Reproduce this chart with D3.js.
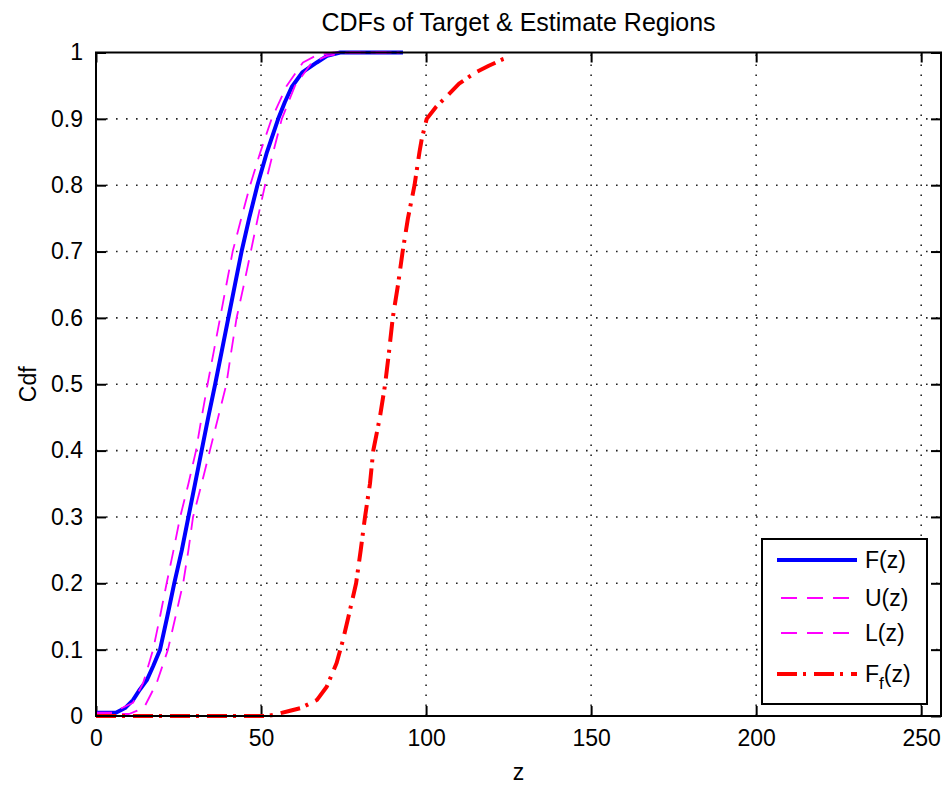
<!DOCTYPE html>
<html>
<head>
<meta charset="utf-8">
<script src="https://cdn.jsdelivr.net/npm/d3@7"></script>
<style>
  body{margin:0;background:#fff;}
  text{font-family:"Liberation Sans",Arial,sans-serif;fill:#000;}
</style>
</head>
<body>
<div id="chart"></div>
<script>
// CDFs of Target & Estimate Regions
const W=947,H=785;
const M={l:96,t:52.5,r:6,b:69};

const xTicks=[0,50,100,150,200,250];
const yTicks=[0,0.1,0.2,0.3,0.4,0.5,0.6,0.7,0.8,0.9,1];

// F(z)
const fZ=[0,6,8.8,11.2,13.3,15.4,17.3,19.4,21.6,23.7,26,28,30,32,34,36.1,38.1,40.1,42.1,44.1,46.4,48.9,51.8,55.2,57.2,59.3,62.5,66.9,70,74,93];
const fP=[0.005,0.005,0.012,0.024,0.04,0.054,0.075,0.1,0.15,0.2,0.25,0.3,0.35,0.4,0.45,0.5,0.55,0.6,0.65,0.7,0.75,0.8,0.85,0.9,0.925,0.948,0.97,0.985,0.995,1,1];
// U(z)
const uZ=[0,5,7,11.2,14.3,17.3,19.4,21.4,23.5,25.5,28,30.3,32,33.8,35.7,37.6,39.5,41.4,44,46.7,49.8,53.2,57.8,62.7,66.5,72,92];
const uP=[0.005,0.005,0.01,0.02,0.05,0.1,0.15,0.2,0.25,0.3,0.35,0.4,0.45,0.5,0.55,0.6,0.65,0.7,0.75,0.8,0.85,0.9,0.95,0.985,0.995,1,1];
// L(z)
const lZ=[0,10,12.5,14.8,18.4,21.8,24.1,26.4,28,29.4,32,34.5,37,39.5,41,42.6,44.8,46.9,49,51.2,53.7,56.3,60.3,65.4,70,76,92];
const lP=[0.003,0.003,0.008,0.015,0.05,0.1,0.15,0.2,0.25,0.3,0.35,0.4,0.45,0.5,0.55,0.6,0.65,0.7,0.75,0.8,0.85,0.9,0.95,0.985,0.995,1,1];
// Ff(z)
const ffZ=[0,52,55,58.8,62,66.9,69.9,72.9,74.8,76.5,78.8,80.2,81.5,83,84,86,87.6,88.8,89.9,91.5,92.9,94.5,96.5,98,98.7,100.2,103,106.5,110,115,119,123.3,124.5];
const ffP=[0,0,0.003,0.008,0.012,0.024,0.044,0.08,0.114,0.15,0.2,0.25,0.3,0.35,0.4,0.45,0.5,0.55,0.6,0.65,0.7,0.75,0.8,0.85,0.87,0.9,0.918,0.935,0.953,0.97,0.98,0.99,0.992];

const series=[
  {name:"F(z)",z:fZ,p:fP,color:"#0000ff",w:4,dash:null},
  {name:"U(z)",z:uZ,p:uP,color:"#ff00ff",w:1.8,dash:"16,10"},
  {name:"L(z)",z:lZ,p:lP,color:"#ff00ff",w:1.8,dash:"16,10"},
  {name:"Ff(z)",z:ffZ,p:ffP,color:"#ff0000",w:4,dash:"20,6,3,8"}
];

const svg=d3.select("#chart").append("svg").attr("width",W).attr("height",H);
const x=d3.scaleLinear().domain([0,256]).range([M.l,W-M.r]);
const y=d3.scaleLinear().domain([0,1]).range([H-M.b,M.t]);
const x0=x.range()[0],x1=x.range()[1],y0=y.range()[0],y1=y.range()[1];

// ── GRID ──
const grid=svg.append("g");
xTicks.filter(t=>t>0).forEach(t=>{
  grid.append("line").attr("x1",x(t)).attr("x2",x(t)).attr("y1",y0).attr("y2",y1)
    .attr("stroke","#222").attr("stroke-width",1.6).attr("stroke-dasharray","1.6,8.4");
});
yTicks.filter(t=>t>0&&t<1).forEach(t=>{
  grid.append("line").attr("x1",x0).attr("x2",x1).attr("y1",y(t)).attr("y2",y(t))
    .attr("stroke","#222").attr("stroke-width",1.6).attr("stroke-dasharray","1.6,8.4");
});

// ── AXES ──
const TL=10;
const axB=svg.append("g").attr("transform",`translate(0,${y0})`)
  .call(d3.axisBottom(x).tickValues(xTicks).tickSizeInner(-TL).tickSizeOuter(0).tickPadding(14));
const axT=svg.append("g").attr("transform",`translate(0,${y1})`)
  .call(d3.axisTop(x).tickValues(xTicks).tickSizeInner(-TL).tickSizeOuter(0).tickFormat(""));
const axL=svg.append("g").attr("transform",`translate(${x0},0)`)
  .call(d3.axisLeft(y).tickValues(yTicks).tickSizeInner(-TL).tickSizeOuter(0).tickPadding(13).tickFormat(d3.format("")));
const axR=svg.append("g").attr("transform",`translate(${x1},0)`)
  .call(d3.axisRight(y).tickValues(yTicks).tickSizeInner(-TL).tickSizeOuter(0).tickFormat(""));
[axB,axT,axL,axR].forEach(a=>{
  a.select(".domain").remove();
  a.selectAll(".tick line").attr("stroke","#000").attr("stroke-width",2);
  a.selectAll("text").attr("font-size",23).attr("font-family","'Liberation Sans',Arial,sans-serif").attr("fill","#000");
});

// ── CURVES ──
const line=d3.line().x(d=>x(d[0])).y(d=>y(d[1]));
const plot=svg.append("g");
series.forEach(s=>{
  const pts=s.z.map((z,i)=>[z,s.p[i]]);
  plot.append("path").attr("d",line(pts)).attr("fill","none")
    .attr("stroke",s.color).attr("stroke-width",s.w)
    .attr("stroke-dasharray",s.dash).attr("stroke-linejoin","round");
});

// box
svg.append("rect").attr("x",x0).attr("y",y1).attr("width",x1-x0).attr("height",y0-y1)
  .attr("fill","none").attr("stroke","#000").attr("stroke-width",2);

// ── LABELS ──
svg.append("text").attr("x",(x0+x1)/2).attr("y",31).attr("text-anchor","middle")
  .attr("font-size",25).text("CDFs of Target & Estimate Regions");
svg.append("text").attr("x",(x0+x1)/2).attr("y",780).attr("text-anchor","middle")
  .attr("font-size",23).text("z");
svg.append("text").attr("transform",`translate(36,${(y0+y1)/2}) rotate(-90)`).attr("text-anchor","middle")
  .attr("font-size",23).text("Cdf");

// ── LEGEND ──
const lg=svg.append("g");
lg.append("rect").attr("x",762).attr("y",539).attr("width",165).attr("height",165)
  .attr("fill","#fff").attr("stroke","#000").attr("stroke-width",2);
const rows=[560,598,633,674];
series.forEach((s,i)=>{
  const ry=rows[i];
  lg.append("line").attr("x1",s.dash&&s.dash.startsWith("16")?781:777).attr("x2",857).attr("y1",ry).attr("y2",ry)
    .attr("stroke",s.color).attr("stroke-width",s.w).attr("stroke-dasharray",s.dash);
  const t=lg.append("text").attr("x",865).attr("y",ry+8).attr("font-size",23);
  if(s.name==="Ff(z)"){
    t.append("tspan").text("F");
    t.append("tspan").attr("dy",7).attr("font-size",17).text("f");
    t.append("tspan").attr("dy",-7).text("(z)");
  }else t.text(s.name);
});
</script>
</body>
</html>
